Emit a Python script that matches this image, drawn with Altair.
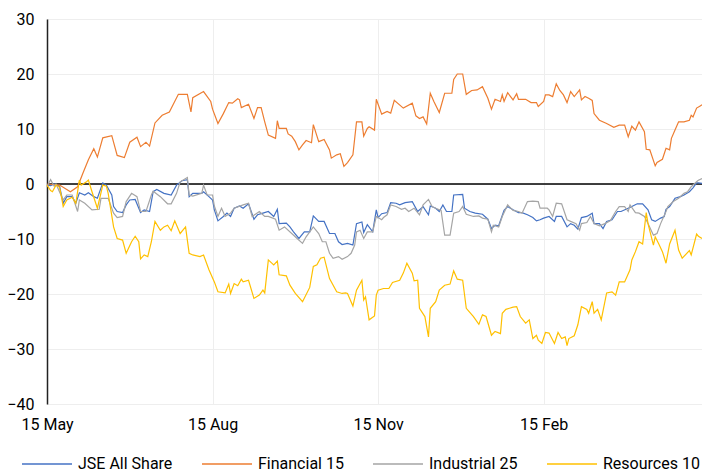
import altair as alt
import pandas as pd

SERIES = ["JSE All Share", "Financial 15", "Industrial 25", "Resources 10"]
COLORS = ["#4472C4", "#ED7D31", "#A5A5A5", "#FFC000"]
TICK_DAYS = [0, 92, 184, 276]
TICK_LABELS = ["15 May", "15 Aug", "15 Nov", "15 Feb"]
Y_TICKS = [-40, -30, -20, -10, 0, 10, 20, 30]

# days since 15 May, values in %
JSE_DAYS = [0, 2, 4, 7, 9, 11, 14, 16, 18, 21, 23, 26, 28, 31, 33, 36, 37, 39, 42, 44, 46, 49, 52, 54, 57, 59, 61, 65, 69, 72, 75, 78, 79, 81, 86, 87, 90,
            92, 93, 95, 98, 100, 102, 104, 107, 109, 112, 115, 117, 120, 123, 126, 128, 129, 133, 135, 137, 140, 143, 146, 148, 151, 154, 157, 160, 162, 164, 167, 170, 172, 175, 176, 178, 181, 183, 184,
            186, 189, 191, 194, 196, 199, 203, 206, 209, 212, 213, 216, 218, 220, 222, 225, 226, 231, 232, 235, 238, 242, 245, 247, 249, 251, 254, 256, 259, 262, 264, 267, 270, 272, 274, 276,
            279, 282, 283, 286, 289, 291, 293, 295, 297, 300, 303, 304, 307, 309, 311, 314, 317, 319, 323, 325, 328, 331, 334, 336, 338, 341, 343, 344, 346, 349, 352, 354, 357, 359, 361, 362, 364]
JSE = [-0.2, -0.3, 0.0, -0.4, -3.5, -2.3, -2.3, -3.5, -1.6, -2.0, -1.6, -2.3, -2.6, 0.2, -0.2, -2.0, -4.1, -5.0, -5.2, -3.8, -2.9, -2.8, -5.2, -4.7, -5.0, -1.4, -1.0, -1.7, -2.0, -0.2, 0.6, 0.8, -2.3, -1.7, -1.7, -1.4, -2.3,
       -2.9, -4.7, -6.7, -5.9, -5.3, -5.9, -4.4, -4.0, -4.4, -3.6, -6.4, -5.6, -5.3, -5.0, -5.9, -4.6, -7.2, -7.1, -7.8, -8.7, -9.9, -8.7, -8.7, -5.8, -6.8, -6.8, -9.0, -9.0, -10.5, -11.0, -10.8, -11.1, -7.2, -6.9, -8.8, -7.4, -8.7, -4.7, -6.1,
       -5.4, -5.2, -3.4, -3.5, -3.8, -3.4, -3.2, -5.0, -4.1, -5.6, -4.0, -4.4, -5.0, -3.8, -5.0, -5.0, -2.0, -1.9, -4.4, -5.0, -5.3, -5.5, -6.4, -8.1, -7.5, -7.6, -4.8, -4.1, -4.7, -5.2, -5.2, -5.6, -6.1, -6.7, -6.5, -6.2,
       -5.9, -6.8, -5.9, -5.9, -7.8, -7.2, -7.5, -8.2, -6.1, -5.9, -5.3, -7.2, -7.2, -8.1, -6.8, -6.5, -5.0, -5.0, -4.4, -4.1, -3.6, -3.6, -4.7, -6.5, -6.8, -6.2, -5.9, -4.6, -4.1, -2.6, -2.3, -2.0, -1.4, -0.7, 0.2, 0.2, 0.1]

FIN_DAYS = [0, 7, 13, 17, 20, 23, 26, 28, 31, 36, 39, 43, 46, 50, 52, 55, 57, 60, 64, 68, 73, 78, 80, 81, 87, 91, 92, 95, 98, 101, 103, 106, 107, 108, 112, 115, 117, 119, 121, 123, 127, 128, 129, 133, 134, 136, 138, 140, 142, 144, 147, 148,
            151, 154, 157, 158, 161, 163, 165, 167, 170, 172, 175, 176, 178, 179, 182, 183, 186, 189, 191, 193, 198, 203, 205, 207, 209, 211, 213, 215, 218, 221, 225, 226, 228, 231, 233, 236, 239, 242, 245, 247, 249, 252, 253, 254,
            256, 259, 261, 262, 266, 269, 272, 273, 276, 277, 279, 281, 283, 285, 287, 289, 291, 293, 296, 297, 299, 301, 303, 304, 307, 311, 315, 318, 321, 323, 325, 327, 329, 332, 333, 335, 338, 339, 342, 344, 346, 347, 349, 351,
            354, 357, 358, 359, 361, 363, 364]
FIN = [0.0, -0.2, -1.4, -0.5, 2.0, 4.4, 6.4, 4.9, 8.4, 8.8, 5.2, 4.8, 7.6, 8.5, 6.8, 7.6, 6.9, 11.1, 12.5, 13.1, 16.3, 16.3, 13.1, 15.7, 16.8, 15.0, 13.6, 11.0, 12.8, 14.8, 14.7, 15.5, 15.3, 13.9, 14.5, 11.9, 13.9, 13.9, 11.3, 8.9, 8.3, 11.5, 10.1, 10.1, 9.1, 8.7, 7.7, 6.2, 7.1, 7.9, 7.5, 10.8,
       7.7, 8.1, 6.2, 4.7, 5.3, 5.5, 3.2, 3.9, 5.3, 11.3, 11.3, 8.7, 10.1, 10.4, 9.8, 15.4, 12.7, 13.2, 12.9, 15.2, 13.8, 14.7, 12.4, 11.9, 12.2, 10.9, 16.5, 15.0, 13.0, 16.5, 16.5, 19.0, 20.0, 20.0, 16.3, 17.0, 17.1, 17.7, 15.6, 13.6, 15.4, 15.0, 16.2, 15.0,
       16.6, 15.3, 16.4, 15.4, 15.4, 14.8, 14.8, 14.1, 15.0, 16.2, 16.2, 15.9, 18.2, 17.0, 16.2, 14.8, 16.8, 15.9, 17.1, 15.3, 15.9, 15.6, 15.2, 12.8, 11.6, 11.0, 10.3, 10.7, 10.7, 8.6, 10.5, 9.8, 11.3, 9.5, 6.3, 6.2, 3.3, 3.9, 4.5, 6.5, 6.2, 8.3, 9.8, 11.3,
       11.3, 11.6, 12.5, 12.2, 13.8, 14.2, 14.4]

IND_DAYS = [0, 2, 4, 5, 9, 11, 14, 17, 18, 21, 25, 29, 30, 34, 37, 39, 42, 44, 47, 50, 52, 55, 58, 59, 63, 67, 69, 72, 74, 78, 79, 81, 86, 87, 89, 92, 93, 95, 97, 99, 102, 104, 109, 112, 114, 118, 121, 123, 127, 129, 132, 136, 139, 142, 144, 148,
            151, 153, 155, 157, 159, 162, 164, 167, 169, 171, 172, 174, 176, 178, 181, 183, 186, 187, 189, 191, 194, 197, 199, 201, 204, 207, 209, 212, 214, 216, 219, 221, 224, 226, 229, 231, 233, 237, 240, 242, 245, 247, 248, 251,
            253, 256, 259, 262, 264, 267, 270, 273, 274, 278, 279, 281, 283, 286, 289, 291, 294, 296, 297, 300, 302, 304, 307, 310, 313, 316, 318, 321, 323, 324, 327, 329, 332, 334, 337, 339, 341, 344, 345, 348, 351, 354, 356, 358, 361, 362, 364]
IND = [-0.5, 0.8, -0.4, 0.0, -2.9, -2.0, -2.0, -5.0, -2.9, -3.5, -4.7, -4.6, -2.6, -2.6, -5.3, -6.1, -5.9, -3.2, -1.7, -2.3, -5.0, -5.0, -2.0, -1.3, -2.3, -3.6, -3.6, -1.7, 0.4, 1.2, -2.0, -2.2, -1.7, -0.2, -2.0, -2.0, -4.0, -5.9, -4.4, -5.9, -5.3, -4.4, -3.8, -3.5, -5.9, -5.0, -5.9, -5.9, -6.4, -8.4, -7.8, -9.0, -9.9, -10.8, -9.6, -7.8,
       -9.0, -10.5, -10.5, -12.6, -13.5, -13.2, -13.7, -13.2, -12.6, -11.1, -8.7, -8.4, -9.9, -8.7, -8.7, -5.9, -6.5, -6.1, -5.6, -3.8, -4.1, -4.6, -4.4, -5.0, -4.4, -5.6, -3.8, -2.8, -4.1, -4.4, -4.8, -9.3, -9.3, -5.3, -5.0, -4.1, -5.5, -5.9, -5.8, -6.2, -6.4, -8.7, -7.5, -7.8,
       -5.9, -3.8, -4.8, -5.0, -5.3, -3.2, -3.1, -3.2, -4.4, -4.4, -4.7, -5.9, -3.5, -3.6, -6.5, -6.8, -7.2, -8.4, -7.2, -7.0, -5.9, -7.2, -7.6, -7.2, -6.7, -5.0, -4.1, -4.1, -5.0, -3.8, -5.2, -5.3, -5.9, -7.2, -9.3, -9.0, -7.2, -5.0, -4.1, -3.2, -2.6, -1.7, -1.4, -0.5, 0.4, 0.7, 1.0]

RES_DAYS = [0, 2, 3, 5, 7, 8, 9, 11, 14, 16, 18, 19, 22, 23, 25, 28, 31, 33, 34, 37, 39, 42, 44, 47, 49, 51, 52, 54, 56, 58, 60, 63, 65, 67, 69, 71, 74, 77, 79, 81, 85, 87, 90, 93, 95, 99, 101, 102, 104, 106, 108, 109, 112, 115, 118, 120, 121, 123, 126, 128, 129, 133, 135, 138,
            142, 146, 148, 150, 152, 154, 157, 161, 164, 166, 167, 170, 172, 175, 176, 177, 179, 182, 183, 184, 187, 190, 192, 196, 198, 200, 203, 204, 206, 207, 210, 212, 213, 216, 218, 221, 224, 226, 228, 231, 233, 237, 240, 242, 244, 247, 249, 252, 253, 255, 257, 259,
            261, 263, 266, 268, 270, 272, 273, 275, 277, 279, 282, 284, 286, 288, 289, 290, 293, 295, 297, 300, 301, 303, 304, 306, 308, 311, 314, 316, 318, 321, 324, 325, 327, 329, 331, 333, 334, 337, 338, 340, 342, 344, 346, 349, 351, 353, 357, 358, 361, 362, 364]
RES = [-0.2, -1.2, -1.4, -0.2, -0.6, -2.3, -4.1, -2.9, -2.4, -3.5, 0.7, -0.2, 0.4, 0.7, -1.4, -4.4, -0.2, -0.4, -1.7, -7.8, -9.9, -10.2, -12.6, -10.5, -9.5, -10.5, -13.6, -12.9, -13.2, -10.5, -6.8, -8.4, -7.8, -7.5, -8.5, -6.7, -9.0, -7.8, -12.6, -12.9, -13.2, -12.9, -15.6, -17.8, -19.6, -19.8, -18.2, -19.9, -18.1, -18.5, -17.3, -17.8, -17.5, -20.8, -20.2, -19.3, -19.8, -13.8, -14.7, -14.0, -16.5, -16.7, -18.4, -19.9,
       -21.4, -18.8, -15.0, -14.7, -13.5, -13.3, -17.2, -19.6, -19.9, -19.8, -19.9, -22.2, -19.3, -17.5, -21.1, -20.5, -24.7, -24.0, -20.2, -19.3, -19.0, -19.0, -17.9, -17.5, -16.2, -14.4, -16.2, -17.6, -17.5, -22.6, -24.1, -27.8, -22.6, -21.4, -19.3, -18.4, -18.2, -15.8, -17.3, -17.5, -22.6, -24.1, -25.5, -23.8, -24.1, -27.5, -26.8, -27.2, -23.5, -22.8, -22.6, -22.4,
       -22.3, -24.1, -25.3, -24.7, -28.1, -27.5, -28.4, -29.0, -27.0, -27.1, -29.0, -27.0, -28.1, -27.8, -29.4, -28.1, -27.6, -25.6, -22.3, -22.8, -23.5, -21.4, -23.5, -22.8, -24.7, -19.8, -19.6, -20.2, -17.8, -17.8, -15.6, -13.8, -12.3, -10.5, -10.9, -5.2, -7.2, -11.1, -9.6, -10.9, -12.3, -14.4, -10.9, -8.4, -12.0, -13.5, -12.1, -12.9, -9.1, -9.5, -9.9]

rows = []
for name, days, vals in [(SERIES[0], JSE_DAYS, JSE), (SERIES[1], FIN_DAYS, FIN),
                         (SERIES[2], IND_DAYS, IND), (SERIES[3], RES_DAYS, RES)]:
    n = min(len(days), len(vals))
    for i in range(n):
        rows.append({"series": name, "day": days[i], "value": vals[i], "order": i})
df = pd.DataFrame(rows)

label_expr = "''"
for d, lab in reversed(list(zip(TICK_DAYS, TICK_LABELS))):
    label_expr = f"datum.value == {d} ? '{lab}' : ({label_expr})"

FONT = "Roboto"
xscale = alt.Scale(domain=[0, 364], nice=False, zero=False)
yscale = alt.Scale(domain=[-40, 30], nice=False)

zero = alt.Chart(pd.DataFrame({"y": [0]})).mark_rule(color="#000000", strokeWidth=1.5).encode(
    y=alt.Y("y:Q", scale=yscale)
)

lines = alt.Chart(df).mark_line(strokeWidth=1.2, interpolate="linear").encode(
    x=alt.X("day:Q", scale=xscale,
            axis=alt.Axis(values=TICK_DAYS, labelExpr=label_expr, title=None, grid=True,
                          gridColor="#eeeeee", domain=False, ticks=False, labelPadding=12,
                          labelFontSize=16, labelFont=FONT, labelColor="#000000",
                          labelFlush=False)),
    y=alt.Y("value:Q", scale=yscale,
            axis=alt.Axis(values=Y_TICKS, title=None, grid=True, gridColor="#eeeeee",
                          domain=True, domainColor="#222222", domainWidth=1.5, ticks=False,
                          labelPadding=13, labelFontSize=16, labelFont=FONT,
                          labelColor="#000000")),
    color=alt.Color("series:N", scale=alt.Scale(domain=SERIES, range=COLORS),
                    legend=alt.Legend(title=None, orient="none", legendX=-26, legendY=419,
                                      direction="horizontal", columns=4, symbolType="stroke",
                                      symbolSize=2500, symbolStrokeWidth=1.5,
                                      labelFontSize=16, labelFont=FONT, labelColor="#000000",
                                      columnPadding=26, labelOffset=5, padding=0)),
    order=alt.Order("order:Q"),
)

chart = alt.layer(zero, lines).properties(
    width=655, height=385,
    autosize=alt.AutoSizeParams(type="none"),
    padding={"left": 39, "top": 11, "right": 0, "bottom": 70},
).configure_view(stroke=None)

chart.save("out.html", embed_options={"renderer": "svg", "actions": False})
